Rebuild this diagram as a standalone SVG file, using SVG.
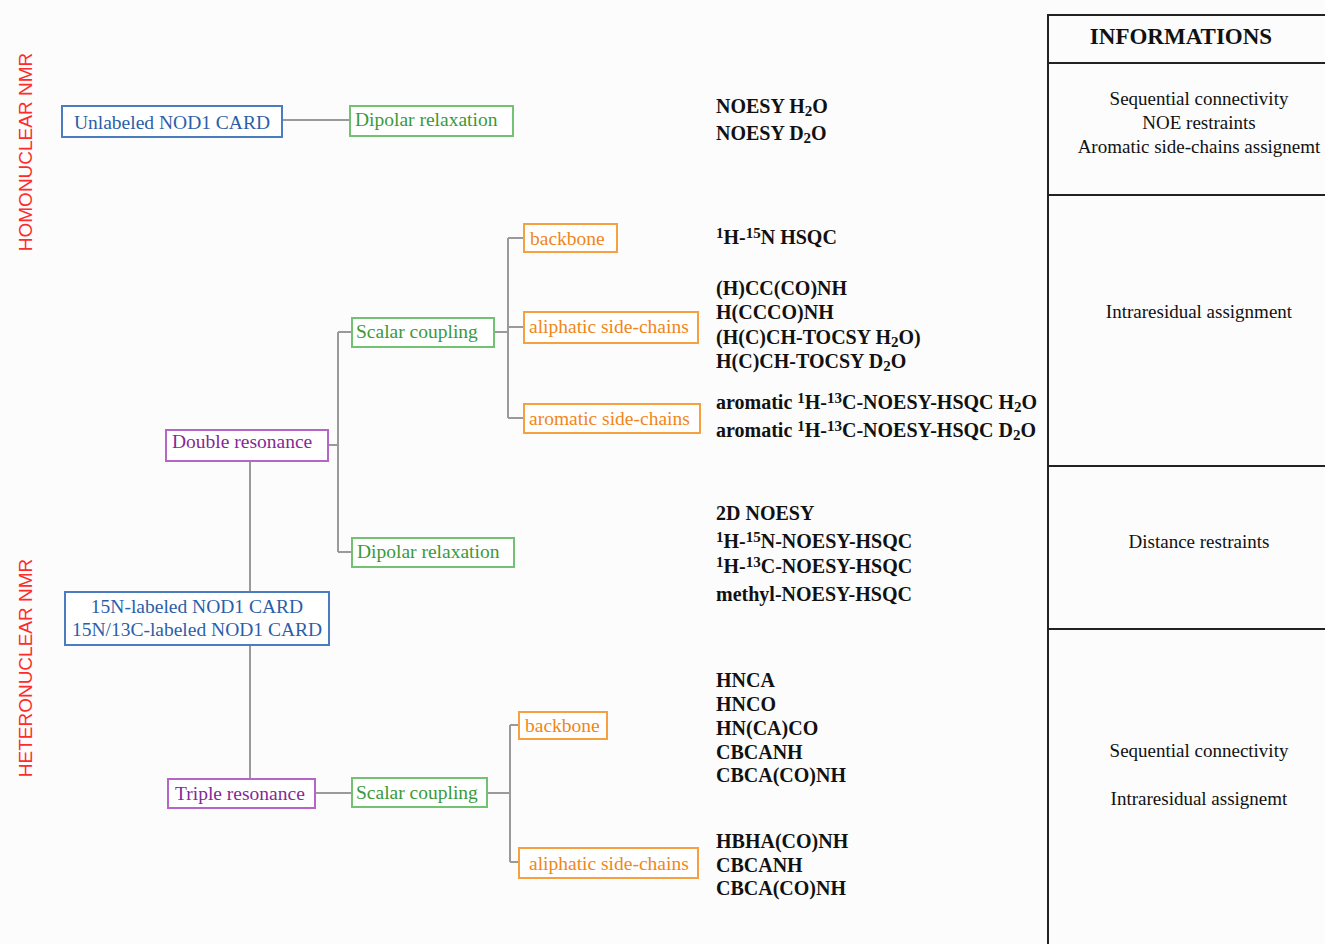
<svg xmlns="http://www.w3.org/2000/svg" width="1325" height="944" viewBox="0 0 1325 944">
<style>
.bg{fill:#fcfcfc}
.box{fill:#ffffff;stroke-width:2}
.blue rect{stroke:#4a7cc0}.blue text{fill:#2b5ea8}
.green rect{stroke:#72c272}.green text{fill:#3a9a3a}
.orange rect{stroke:#f7a040}.orange text{fill:#f0861a}
.purple rect{stroke:#b565c5}.purple text{fill:#842a94}
.nt{font-family:"Liberation Serif",serif;font-size:19.5px}
.conn{fill:none;stroke:#9a9a9a;stroke-width:2}
.exp{font-family:"Liberation Serif",serif;font-size:20px;font-weight:bold;fill:#111}
.sb{font-size:15px}
.sp{font-size:15px}
.side{font-family:"Liberation Sans",sans-serif;font-size:19px;fill:#ff2a2a}
.tbl{stroke:#222;stroke-width:2;fill:none}
.info{font-family:"Liberation Serif",serif;font-size:19px;fill:#111;text-anchor:middle}
.hdr{font-family:"Liberation Serif",serif;font-size:23px;font-weight:bold;fill:#111}
</style>
<rect class="bg" x="0" y="0" width="1325" height="944"/>

<text class="side" transform="translate(32,152) rotate(-90)" text-anchor="middle">HOMONUCLEAR NMR</text>
<text class="side" transform="translate(32,668) rotate(-90)" text-anchor="middle">HETERONUCLEAR NMR</text>

<g id="connectors">
<path class="conn" d="M282 120 H350"/>
<path class="conn" d="M328 445 H338 M338 332 V552 M338 332 H352 M338 552 H352"/>
<path class="conn" d="M494 332 H508 M508 238 V418 M508 238 H524 M508 327 H524 M508 418 H524"/>
<path class="conn" d="M250 461 V592"/>
<path class="conn" d="M250 645 V779"/>
<path class="conn" d="M315 793 H352"/>
<path class="conn" d="M487 793 H510 M510 725 V862 M510 725 H519 M510 862 H519"/>
</g>

<g id="n_unlabeled" class="blue"><rect class="box" x="62" y="106" width="220" height="31"/><text class="nt" x="172" y="129" text-anchor="middle">Unlabeled NOD1 CARD</text></g>
<g id="n_dipolar1" class="green"><rect class="box" x="350" y="106" width="163" height="30"/><text class="nt" x="355" y="126">Dipolar relaxation</text></g>
<g id="n_backbone1" class="orange"><rect class="box" x="524" y="224" width="93" height="28"/><text class="nt" x="530" y="245">backbone</text></g>
<g id="n_scalar1" class="green"><rect class="box" x="352" y="318" width="142" height="29"/><text class="nt" x="356" y="338">Scalar coupling</text></g>
<g id="n_aliphatic1" class="orange"><rect class="box" x="524" y="312" width="174" height="31"/><text class="nt" x="529" y="333">aliphatic side-chains</text></g>
<g id="n_aromatic" class="orange"><rect class="box" x="524" y="404" width="176" height="29"/><text class="nt" x="529" y="425">aromatic side-chains</text></g>
<g id="n_double" class="purple"><rect class="box" x="166" y="430" width="162" height="31"/><text class="nt" x="172" y="448">Double resonance</text></g>
<g id="n_dipolar2" class="green"><rect class="box" x="352" y="538" width="162" height="29"/><text class="nt" x="357" y="558">Dipolar relaxation</text></g>
<g id="n_labeled" class="blue"><rect class="box" x="65" y="592" width="264" height="53"/><text class="nt" x="197" y="613" text-anchor="middle">15N-labeled NOD1 CARD</text><text class="nt" x="197" y="636" text-anchor="middle">15N/13C-labeled NOD1 CARD</text></g>
<g id="n_triple" class="purple"><rect class="box" x="168" y="779" width="147" height="29"/><text class="nt" x="175" y="800">Triple resonance</text></g>
<g id="n_scalar2" class="green"><rect class="box" x="352" y="778" width="135" height="29"/><text class="nt" x="356" y="799">Scalar coupling</text></g>
<g id="n_backbone2" class="orange"><rect class="box" x="519" y="712" width="88" height="27"/><text class="nt" x="525" y="732">backbone</text></g>
<g id="n_aliphatic2" class="orange"><rect class="box" x="519" y="848" width="179" height="30"/><text class="nt" x="529" y="870">aliphatic side-chains</text></g>

<g id="experiments">
<text class="exp" x="716" y="113">NOESY H<tspan class="sb" baseline-shift="-3">2</tspan>O</text>
<text class="exp" x="716" y="140">NOESY D<tspan class="sb" baseline-shift="-3">2</tspan>O</text>
<text class="exp" x="716" y="244"><tspan class="sp" baseline-shift="6">1</tspan>H-<tspan class="sp" baseline-shift="6">15</tspan>N HSQC</text>
<text class="exp" x="716" y="295">(H)CC(CO)NH</text>
<text class="exp" x="716" y="319">H(CCCO)NH</text>
<text class="exp" x="716" y="344">(H(C)CH-TOCSY H<tspan class="sb" baseline-shift="-3">2</tspan>O)</text>
<text class="exp" x="716" y="368">H(C)CH-TOCSY D<tspan class="sb" baseline-shift="-3">2</tspan>O</text>
<text class="exp" x="716" y="409">aromatic <tspan class="sp" baseline-shift="6">1</tspan>H-<tspan class="sp" baseline-shift="6">13</tspan>C-NOESY-HSQC H<tspan class="sb" baseline-shift="-3">2</tspan>O</text>
<text class="exp" x="716" y="437">aromatic <tspan class="sp" baseline-shift="6">1</tspan>H-<tspan class="sp" baseline-shift="6">13</tspan>C-NOESY-HSQC D<tspan class="sb" baseline-shift="-3">2</tspan>O</text>
<text class="exp" x="716" y="520">2D NOESY</text>
<text class="exp" x="716" y="548"><tspan class="sp" baseline-shift="6">1</tspan>H-<tspan class="sp" baseline-shift="6">15</tspan>N-NOESY-HSQC</text>
<text class="exp" x="716" y="573"><tspan class="sp" baseline-shift="6">1</tspan>H-<tspan class="sp" baseline-shift="6">13</tspan>C-NOESY-HSQC</text>
<text class="exp" x="716" y="601">methyl-NOESY-HSQC</text>
<text class="exp" x="716" y="687">HNCA</text>
<text class="exp" x="716" y="711">HNCO</text>
<text class="exp" x="716" y="735">HN(CA)CO</text>
<text class="exp" x="716" y="759">CBCANH</text>
<text class="exp" x="716" y="782">CBCA(CO)NH</text>
<text class="exp" x="716" y="848">HBHA(CO)NH</text>
<text class="exp" x="716" y="872">CBCANH</text>
<text class="exp" x="716" y="895">CBCA(CO)NH</text>
</g>

<g id="info_table">
<path class="tbl" d="M1048 944 V15 H1325 M1048 63 H1325 M1048 195 H1325 M1048 466 H1325 M1048 629 H1325"/>
<text class="hdr" x="1181" y="44" text-anchor="middle">INFORMATIONS</text>
<text class="info" x="1199" y="105">Sequential connectivity</text>
<text class="info" x="1199" y="129">NOE restraints</text>
<text class="info" x="1199" y="153">Aromatic side-chains assignemt</text>
<text class="info" x="1199" y="318">Intraresidual assignment</text>
<text class="info" x="1199" y="548">Distance restraints</text>
<text class="info" x="1199" y="757">Sequential connectivity</text>
<text class="info" x="1199" y="805">Intraresidual assignemt</text>
</g>
</svg>
